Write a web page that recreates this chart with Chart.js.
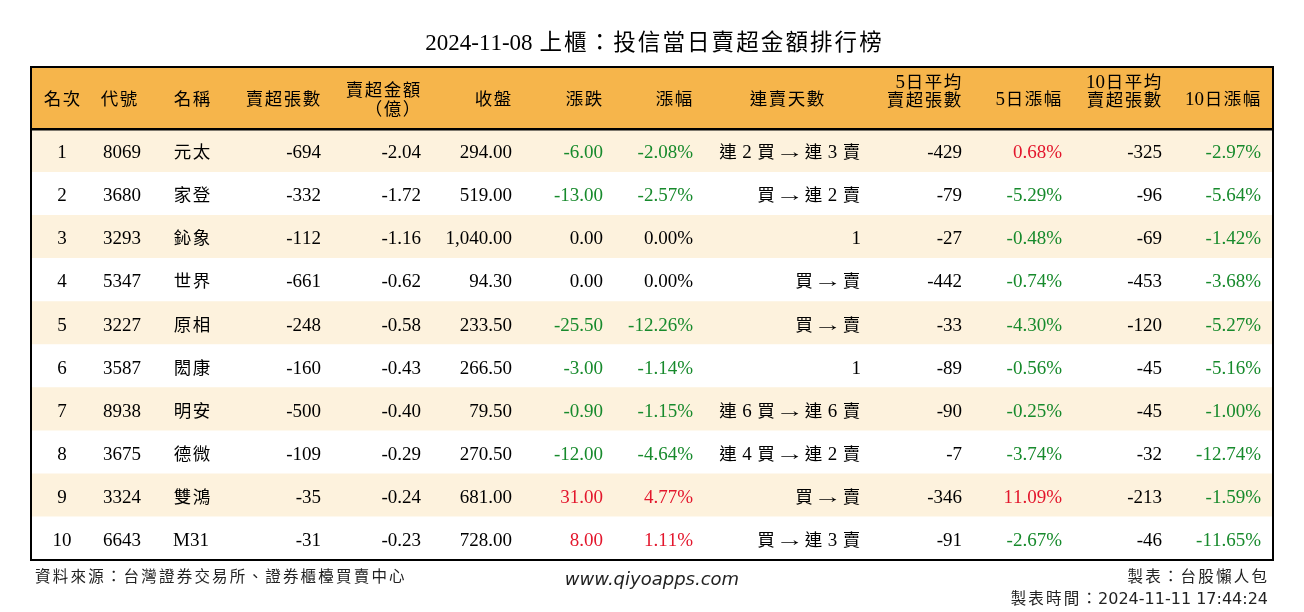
<!DOCTYPE html>
<html>
<head>
<meta charset="utf-8">
<title>投信當日賣超金額排行榜</title>
<script src="https://cdn.jsdelivr.net/npm/chart.js@4.4.0/dist/chart.umd.min.js"></script>
<style>
  html, body { margin: 0; padding: 0; background: #fff; }
  canvas { display: block; }
</style>
</head>
<body>
<canvas id="board" width="1304" height="612"></canvas>
<script>
// 2024-11-08 上櫃 投信賣超排行
var ranks = [1, 2, 3, 4, 5, 6, 7, 8, 9, 10];
var codes = ['8069', '3680', '3293', '5347', '3227', '3587', '8938', '3675', '3324', '6643'];
var names = ['元太', '家登', '鈊象', '世界', '原相', '閎康', '明安', '德微', '雙鴻', 'M31'];
var sellVolume = [-694, -332, -112, -661, -248, -160, -500, -109, -35, -31];
var sellAmount = [-2.04, -1.72, -1.16, -0.62, -0.58, -0.43, -0.40, -0.29, -0.24, -0.23];
var closePrice = [294.00, 519.00, 1040.00, 94.30, 233.50, 266.50, 79.50, 270.50, 681.00, 728.00];
var change = [-6.00, -13.00, 0.00, 0.00, -25.50, -3.00, -0.90, -12.00, 31.00, 8.00];
var changePct = [-2.08, -2.57, 0.00, 0.00, -12.26, -1.14, -1.15, -4.64, 4.77, 1.11];
var streak = ['連 2 買 → 連 3 賣', '買 → 連 2 賣', '1', '買 → 賣', '買 → 賣', '1',
              '連 6 買 → 連 6 賣', '連 4 買 → 連 2 賣', '買 → 賣', '買 → 連 3 賣'];
var avg5Volume = [-429, -79, -27, -442, -33, -89, -90, -7, -346, -91];
var change5Pct = [0.68, -5.29, -0.48, -0.74, -4.30, -0.56, -0.25, -3.74, 11.09, -2.67];
var avg10Volume = [-325, -96, -69, -453, -120, -45, -45, -32, -213, -46];
var change10Pct = [-2.97, -5.64, -1.42, -3.68, -5.27, -5.16, -1.00, -12.74, -1.59, -11.65];

var titleText = '2024-11-08 上櫃：投信當日賣超金額排行榜';
var sourceText = '資料來源：台灣證券交易所、證券櫃檯買賣中心';
var siteText = 'www.qiyoapps.com';
var makerText = '製表：台股懶人包';
var madeAtText = '製表時間：2024-11-11 17:44:24';

// layout / styles
var TABLE_W = 1242;
var HEADER_H = 62 / 43;   // header row height, in row units
var HEADER_BG = '#f6b54b';
var STRIPE_BG = '#fdf2dd';
var UP = '#e3162c';
var DOWN = '#178a2c';
var SERIF = "'Liberation Serif', 'DejaVu Serif', serif";
var CJK = "'Noto Sans CJK TC', 'Noto Sans CJK JP', sans-serif";
var SANS = "'DejaVu Sans', sans-serif";

function fmt2(v) {
  return v.toLocaleString('en-US', { minimumFractionDigits: 2, maximumFractionDigits: 2 });
}
function tone(v) {
  return v > 0 ? UP : (v < 0 ? DOWN : '#000');
}

// column anchors are in table units (0 = left border)
var columns = [
  { head: ['名次'], hx: 31, hAlign: 'center', hOff: [7], x: 31, align: 'center',
    cell: function(i) { return { text: String(ranks[i]) }; } },
  { head: ['代號'], hx: 88, hAlign: 'center', hOff: [7], x: 91, align: 'center',
    cell: function(i) { return { text: codes[i] }; } },
  { head: ['名稱'], hx: 142, hAlign: 'left', hOff: [7], x: 142, align: 'left',
    cell: function(i) { return { text: names[i] }; } },
  { head: ['賣超張數'], hx: 290, hAlign: 'right', hOff: [7], x: 290, align: 'right',
    cell: function(i) { return { text: String(sellVolume[i]) }; } },
  { head: ['賣超金額', '（億）'], hx: 390, hAlign: 'right', hOff: [-2, 16.5], x: 390, align: 'right',
    cell: function(i) { return { text: fmt2(sellAmount[i]) }; } },
  { head: ['收盤'], hx: 481, hAlign: 'right', hOff: [7], x: 481, align: 'right',
    cell: function(i) { return { text: fmt2(closePrice[i]) }; } },
  { head: ['漲跌'], hx: 572, hAlign: 'right', hOff: [7], x: 572, align: 'right',
    cell: function(i) { return { text: fmt2(change[i]), color: tone(change[i]) }; } },
  { head: ['漲幅'], hx: 662, hAlign: 'right', hOff: [7], x: 662, align: 'right',
    cell: function(i) { return { text: fmt2(changePct[i]) + '%', color: tone(changePct[i]) }; } },
  { head: ['連賣天數'], hx: 756, hAlign: 'center', hOff: [7], x: 830, align: 'right',
    cell: function(i) { return { text: streak[i] }; } },
  { head: ['5日平均', '賣超張數'], hx: 931, hAlign: 'right', hOff: [-10.5, 8], x: 931, align: 'right',
    cell: function(i) { return { text: String(avg5Volume[i]) }; } },
  { head: ['5日漲幅'], hx: 1031, hAlign: 'right', hOff: [7], x: 1031, align: 'right',
    cell: function(i) { return { text: fmt2(change5Pct[i]) + '%', color: tone(change5Pct[i]) }; } },
  { head: ['10日平均', '賣超張數'], hx: 1131, hAlign: 'right', hOff: [-10.5, 8], x: 1131, align: 'right',
    cell: function(i) { return { text: String(avg10Volume[i]) }; } },
  { head: ['10日漲幅'], hx: 1230, hAlign: 'right', hOff: [7], x: 1230, align: 'right',
    cell: function(i) { return { text: fmt2(change10Pct[i]) + '%', color: tone(change10Pct[i]) }; } }
];

// draw text where CJK glyphs (and the arrow) get their own font and a fixed advance
function drawMixed(ctx, text, x, y, align, latinFont, cjkFont, cjkAdv) {
  var parts = Array.from(text).map(function(ch) {
    var isArrow = ch === '→';
    var isCjk = isArrow || /[\u2e80-\u9fff\u3000-\u303f\uff00-\uffef]/.test(ch);
    var font = isArrow ? latinFont : (isCjk ? cjkFont : latinFont);
    ctx.font = font;
    var w = ctx.measureText(ch).width;
    return { ch: ch, font: font, arrow: isArrow, w: w, adv: isCjk ? cjkAdv : w };
  });
  var total = parts.reduce(function(s, p) { return s + p.adv; }, 0);
  var cx = align === 'right' ? x - total : (align === 'center' ? x - total / 2 : x);
  ctx.textAlign = 'left';
  parts.forEach(function(p) {
    ctx.font = p.font;
    if (p.arrow) {
      // the source uses a long thin arrow: stretch the serif one
      var sx = 1.5;
      ctx.save();
      ctx.translate(cx + (p.adv - p.w * sx) / 2, y);
      ctx.scale(sx, 1);
      ctx.fillText(p.ch, 0, 0);
      ctx.restore();
    } else {
      ctx.fillText(p.ch, cx + (p.adv - p.w) / 2, y);
    }
    cx += p.adv;
  });
}

var tablePlugin = {
  id: 'tableText',
  afterDatasetsDraw: function(chart) {
    var ctx = chart.ctx;
    var xs = chart.scales.x;
    var ys = chart.scales.y;
    var area = chart.chartArea;
    var cellLatin = '19px ' + SERIF;
    var cellCjk = '17.5px ' + CJK;

    ctx.save();
    ctx.textBaseline = 'alphabetic';

    // frame and header rule
    ctx.strokeStyle = '#000';
    ctx.lineWidth = 2.5;
    var hy = ys.getPixelForValue(HEADER_H);
    ctx.beginPath();
    ctx.moveTo(area.left, hy);
    ctx.lineTo(area.right, hy);
    ctx.stroke();
    ctx.lineWidth = 2;
    ctx.strokeRect(area.left, area.top, area.right - area.left, area.bottom - area.top);

    // header
    ctx.fillStyle = '#000';
    var hc = ys.getPixelForValue(HEADER_H / 2);
    columns.forEach(function(col) {
      col.head.forEach(function(line, k) {
        drawMixed(ctx, line, xs.getPixelForValue(col.hx), hc + col.hOff[k], col.hAlign, cellLatin, cellCjk, 19);
      });
    });

    // body
    ranks.forEach(function(r, i) {
      var cy = ys.getPixelForValue(HEADER_H + i + 0.5);
      columns.forEach(function(col) {
        var c = col.cell(i);
        ctx.fillStyle = c.color || '#000';
        drawMixed(ctx, c.text, xs.getPixelForValue(col.x), cy + 7.5, col.align, cellLatin, cellCjk, 19);
      });
    });

    // title
    ctx.fillStyle = '#000';
    drawMixed(ctx, titleText, (area.left + area.right) / 2 + 2, area.top - 17, 'center',
      '23px ' + SERIF, '22.5px ' + CJK, 24.6);

    // footer
    ctx.fillStyle = '#222';
    drawMixed(ctx, sourceText, area.left + 3, area.bottom + 22, 'left', '16px ' + SANS, '15.5px ' + CJK, 17.7);
    drawMixed(ctx, makerText, area.right - 5, area.bottom + 22, 'right', '16px ' + SANS, '15.5px ' + CJK, 17.7);
    drawMixed(ctx, madeAtText, area.right - 5, area.bottom + 44, 'right', '16px ' + SANS, '15.5px ' + CJK, 17.7);
    ctx.font = 'italic 18px ' + SANS;
    ctx.textAlign = 'center';
    ctx.fillText(siteText, (area.left + area.right) / 2, area.bottom + 25);

    ctx.restore();
  }
};

new Chart(document.getElementById('board'), {
  type: 'bar',
  data: {
    datasets: [
      {
        label: 'header',
        data: [{ x: [0, TABLE_W], y: HEADER_H / 2 }],
        backgroundColor: HEADER_BG,
        barThickness: 62,
        grouped: false
      },
      {
        label: 'rows',
        data: ranks.map(function(r, i) { return { x: [0, TABLE_W], y: HEADER_H + i + 0.5 }; }),
        backgroundColor: ranks.map(function(r, i) { return i % 2 === 0 ? STRIPE_BG : '#ffffff'; }),
        barPercentage: 1,
        categoryPercentage: 1,
        grouped: false
      }
    ]
  },
  options: {
    indexAxis: 'y',
    responsive: false,
    animation: false,
    devicePixelRatio: 1,
    layout: { padding: { left: 31, right: 31, top: 67, bottom: 52 } },
    plugins: {
      legend: { display: false },
      tooltip: { enabled: false },
      title: { display: false }
    },
    scales: {
      x: { type: 'linear', min: 0, max: TABLE_W, display: false },
      y: {
        type: 'linear', min: 0, max: HEADER_H + ranks.length, reverse: true, display: false,
        afterBuildTicks: function(axis) { axis.ticks = []; } // keep bar sizing on the row pitch
      }
    }
  },
  plugins: [tablePlugin]
});
</script>
</body>
</html>
